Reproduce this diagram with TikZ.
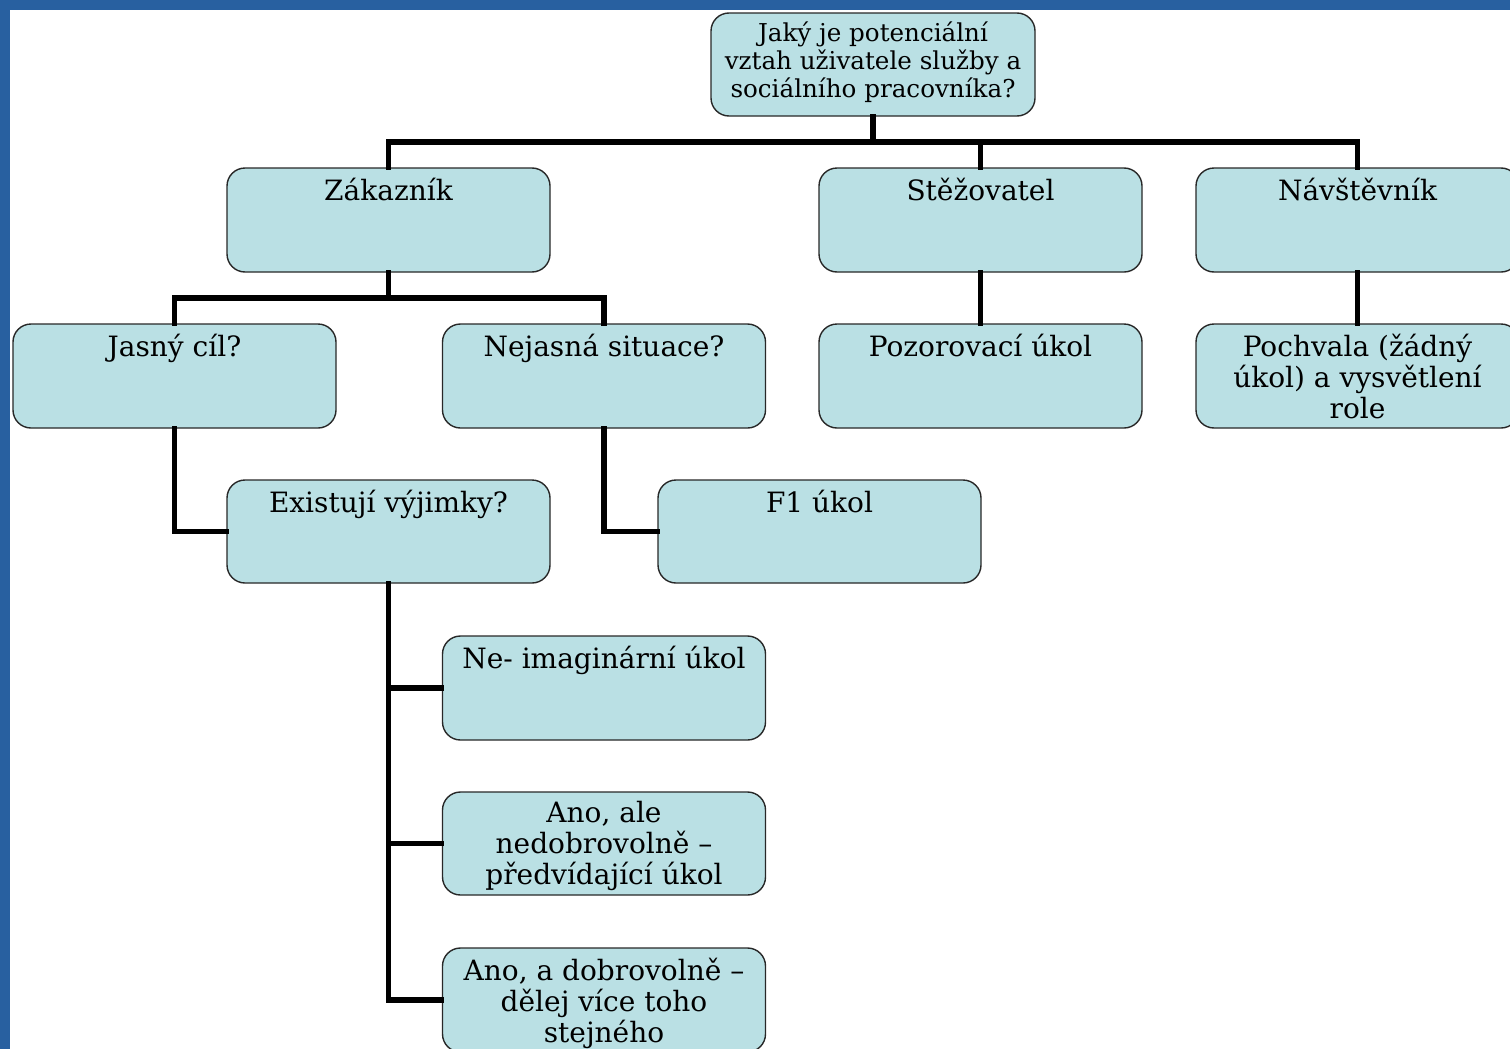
\documentclass[tikz,border=0pt]{standalone}
\usepackage{fontspec}
\setmainfont{DejaVu Serif}
\definecolor{boxfill}{RGB}{186,224,228}
\definecolor{boxline}{RGB}{40,40,40}
\definecolor{frameblue}{RGB}{40,96,160}
\begin{document}
\begin{tikzpicture}[x=0.5pt,y=-0.5pt,
  box/.style={draw=boxline,line width=0.7pt,fill=boxfill,rounded corners=9pt,
    minimum width=161.5pt,minimum height=52pt,inner sep=0pt},
  txt/.style={font=\fontsize{14}{15.5}\selectfont,align=center,inner sep=0pt},
  conn/.style={line width=2.6pt,line join=miter,line cap=rect}]
\useasboundingbox (0,0) rectangle (1510,1049);
\clip (0,0) rectangle (1510,1049);
\fill[frameblue] (0,0) rectangle (1510,1049);
\fill[white] (10,10) rectangle (1512,1051);
% boxes
\node[box,minimum width=162pt,minimum height=51.5pt] (top) at (873,64.5) {};
\node[txt,font=\fontsize{12.3}{14}\selectfont,anchor=north] (topt) at ([yshift=-4.5pt]top.north) {Jaký je potenciální\\vztah uživatele služby a\\sociálního pracovníka?};
\node[box] (zak) at (388.5,220) {};
\node[box] (stez) at (980.5,220) {};
\node[box] (nav) at (1357.5,220) {};
\node[box] (jas) at (174.5,376) {};
\node[box] (nej) at (604,376) {};
\node[box] (poz) at (980.5,376) {};
\node[box] (poch) at (1357.5,376) {};
\node[box,minimum height=51.5pt] (exi) at (388.5,531.5) {};
\node[box,minimum height=51.5pt] (f1) at (819.5,531.5) {};
\node[box] (ne) at (604,688) {};
\node[box,minimum height=51.5pt] (ano1) at (604,843.5) {};
\node[box] (ano2) at (604,1000) {};
% texts
\node[txt,anchor=north] (zakt) at ([yshift=-5pt]zak.north) {Zákazník};
\node[txt,anchor=north] (stezt) at ([yshift=-5pt]stez.north) {Stěžovatel};
\node[txt,anchor=north] (navt) at ([yshift=-5pt]nav.north) {Návštěvník};
\node[txt,anchor=north] (jast) at ([yshift=-5pt]jas.north) {Jasný cíl?};
\node[txt,anchor=north] (nejt) at ([yshift=-5pt]nej.north) {Nejasná situace?};
\node[txt,anchor=north] (pozt) at ([yshift=-5pt]poz.north) {Pozorovací úkol};
\node[txt,anchor=north] (pocht) at ([yshift=-5pt]poch.north) {Pochvala (žádný\\úkol) a vysvětlení\\role};
\node[txt,anchor=north] (exit) at ([yshift=-5pt]exi.north) {Existují výjimky?};
\node[txt,anchor=north] (f1t) at ([yshift=-5pt]f1.north) {F1 úkol};
\node[txt,anchor=north] (net) at ([yshift=-5pt]ne.north) {Ne- imaginární úkol};
\node[txt,anchor=north] (ano1t) at ([yshift=-5pt]ano1.north) {Ano, ale\\nedobrovolně –\\předvídající úkol};
\node[txt,anchor=north] (ano2t) at ([yshift=-5pt]ano2.north) {Ano, a dobrovolně –\\dělej více toho\\stejného};
% connectors
\coordinate (bus1) at (873,142);
\coordinate (bus2) at (388.5,298);
\draw[conn] (top.south) -- (bus1);
\draw[conn] (zak.north) |- (bus1);
\draw[conn] (nav.north) |- (bus1);
\draw[conn] (stez.north) -- (stez.north |- bus1);
\draw[conn] (zak.south) -- (bus2);
\draw[conn] (jas.north) |- (bus2);
\draw[conn] (nej.north) |- (bus2);
\draw[conn] (stez.south) -- (poz.north);
\draw[conn] (nav.south) -- (poch.north);
\draw[conn] (jas.south) |- (exi.west);
\draw[conn] (nej.south) |- (f1.west);
\draw[conn] (exi.south) |- (ano2.west);
\draw[conn] (exi.south) |- (ne.west);
\draw[conn] (exi.south) |- (ano1.west);
\end{tikzpicture}
\end{document}
